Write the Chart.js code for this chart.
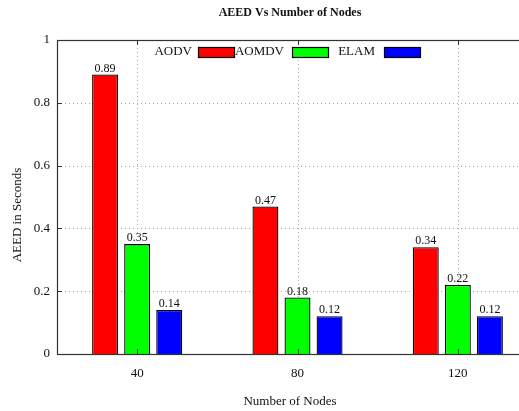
<!DOCTYPE html>
<html>
<head>
<meta charset="utf-8">
<script src="https://cdn.jsdelivr.net/npm/chart.js@4/dist/chart.umd.min.js"></script>
<style>
  html, body { margin: 0; padding: 0; background: #fff; overflow: hidden; width: 519px; height: 411px; }
  #wrap { width: 540px; height: 411px; }
</style>
</head>
<body>
<div id="wrap"><canvas id="c" width="540" height="411"></canvas></div>
<script>
// Average end-to-end delay per protocol and node count
const categories = ['40', '80', '120'];
const aodv  = [0.89, 0.47, 0.34];
const aomdv = [0.35, 0.18, 0.22];
const elam  = [0.14, 0.12, 0.12];
const yTicks = [0, 0.2, 0.4, 0.6, 0.8, 1];

const chartTitle = 'AEED Vs Number of Nodes';
const xTitle = 'Number of Nodes';
const yTitle = 'AEED in Seconds';

const SERIF = '"Liberation Serif", "Times New Roman", serif';

// Frame, inward ticks, titles, gnuplot-style key and value labels
const decor = {
  id: 'decor',
  beforeDatasetsDraw(chart) {
    const { ctx, chartArea: a, scales } = chart;
    ctx.save();
    ctx.strokeStyle = '#aaa';
    ctx.lineWidth = 1;
    ctx.setLineDash([1, 3]);
    // horizontal dotted grid
    yTicks.forEach(v => {
      if (v === 0 || v === 1) return;
      const y = Math.round(scales.y.getPixelForValue(v)) + 0.5;
      ctx.beginPath(); ctx.moveTo(a.left, y); ctx.lineTo(a.right, y); ctx.stroke();
    });
    // vertical dotted grid at each category
    categories.forEach((c, i) => {
      const x = Math.round(scales.x.getPixelForValue(i)) + 0.5;
      ctx.beginPath(); ctx.moveTo(x, a.top); ctx.lineTo(x, a.bottom); ctx.stroke();
    });
    ctx.restore();
  },
  afterDatasetsDraw(chart) {
    const { ctx, chartArea: a, scales } = chart;
    ctx.save();
    // frame
    ctx.strokeStyle = '#333';
    ctx.lineWidth = 1.2;
    ctx.strokeRect(a.left + 0.5, a.top + 0.5, a.right - a.left, a.bottom - a.top);
    // inward ticks
    ctx.lineWidth = 1;
    yTicks.forEach(v => {
      const y = Math.round(scales.y.getPixelForValue(v)) + 0.5;
      ctx.beginPath(); ctx.moveTo(a.left, y); ctx.lineTo(a.left + 5, y); ctx.stroke();
    });
    categories.forEach((c, i) => {
      const x = Math.round(scales.x.getPixelForValue(i)) + 0.5;
      ctx.beginPath(); ctx.moveTo(x, a.top); ctx.lineTo(x, a.top + 5); ctx.stroke();
      ctx.beginPath(); ctx.moveTo(x, a.bottom); ctx.lineTo(x, a.bottom - 5); ctx.stroke();
    });

    ctx.fillStyle = '#111';
    // value labels above bars
    ctx.font = '12px ' + SERIF;
    ctx.textAlign = 'center';
    ctx.textBaseline = 'bottom';
    chart.data.datasets.forEach((ds, di) => {
      chart.getDatasetMeta(di).data.forEach((bar, i) => {
        ctx.fillText(ds.data[i].toFixed(2), bar.x, bar.y);
      });
    });

    // chart title
    ctx.font = 'bold 12px ' + SERIF;
    ctx.textBaseline = 'middle';
    ctx.fillText(chartTitle, 290, 13);

    // axis titles
    ctx.font = '13px ' + SERIF;
    ctx.fillText(xTitle, 290, 402);
    ctx.save();
    ctx.translate(18, 215);
    ctx.rotate(-Math.PI / 2);
    ctx.fillText(yTitle, 0, 0);
    ctx.restore();

    // key: label followed by colour sample
    const keyPos = [
      { tx: 192, bx: 198 },
      { tx: 284, bx: 292 },
      { tx: 375, bx: 384 }
    ];
    ctx.font = '13px ' + SERIF;
    ctx.textAlign = 'right';
    chart.data.datasets.forEach((ds, di) => {
      const p = keyPos[di];
      ctx.fillStyle = '#111';
      ctx.fillText(ds.label, p.tx, 52);
      ctx.fillStyle = ds.backgroundColor;
      ctx.fillRect(p.bx, 47, 36, 10);
      ctx.strokeStyle = '#000';
      ctx.lineWidth = 1.2;
      ctx.strokeRect(p.bx + 0.5, 47.5, 36, 10);
    });
    ctx.restore();
  }
};

const mk = (label, data, color) => ({
  label, data,
  backgroundColor: color,
  borderColor: '#000',
  borderWidth: 1.3,
  barPercentage: 0.81,
  categoryPercentage: 0.6
});

new Chart(document.getElementById('c'), {
  type: 'bar',
  data: {
    labels: categories,
    datasets: [
      mk('AODV', aodv, '#ff0000'),
      mk('AOMDV', aomdv, '#00ff00'),
      mk('ELAM', elam, '#0000ff')
    ]
  },
  options: {
    responsive: false,
    animation: false,
    events: [],
    layout: { padding: { top: 40, right: 2, left: 0, bottom: 0 } },
    plugins: { legend: { display: false }, title: { display: false }, tooltip: { enabled: false } },
    scales: {
      x: {
        offset: true,
        grid: { display: false, drawTicks: false },
        border: { display: false },
        ticks: { color: '#111', font: { family: SERIF, size: 13 }, padding: 12, maxRotation: 0 },
        afterFit(s) { s.height = 57; }
      },
      y: {
        min: 0, max: 1,
        afterBuildTicks(s) { s.ticks = yTicks.map(v => ({ value: v })); },
        grid: { display: false, drawTicks: false },
        border: { display: false },
        ticks: { color: '#111', font: { family: SERIF, size: 13 }, padding: 7,
                 callback: v => String(v) },
        afterFit(s) { s.width = 57; }
      }
    }
  },
  plugins: [decor]
});
</script>
</body>
</html>
